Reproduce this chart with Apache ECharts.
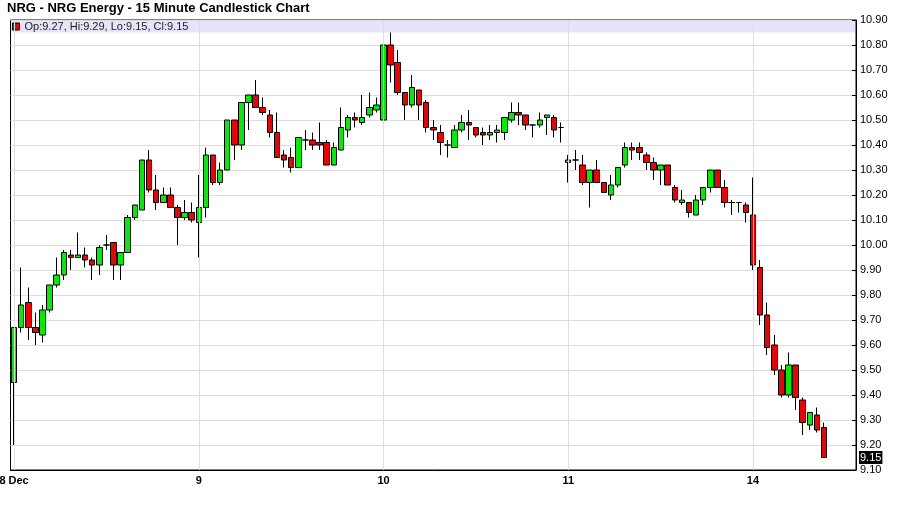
<!DOCTYPE html>
<html><head><meta charset="utf-8">
<script src="https://cdn.jsdelivr.net/npm/echarts@6/dist/echarts.min.js"></script>
<style>html,body{margin:0;padding:0;background:#fff}#c{width:900px;height:511px}</style>
</head><body><div id="c"></div>
<script>
const titleText = 'NRG - NRG Energy - 15 Minute Candlestick Chart';
const dayLabels = ['8 Dec', '9', '10', '11', '14'];
const barsPerDay = [26, 26, 26, 26, 11];

const opens = [
 9.45,9.67,9.77,9.67,9.64,9.74,9.84,9.88,9.96,9.95,9.96,9.94,9.92,10.00,10.01,9.92,9.97,10.11,10.14,10.34,10.22,10.17,10.20,10.15,10.11,10.13,
 10.09,10.15,10.36,10.25,10.30,10.50,10.40,10.57,10.60,10.55,10.52,10.45,10.36,10.35,10.31,10.42,10.42,10.41,10.41,10.32,10.38,10.46,10.51,10.49,10.52,10.54,
 10.50,10.80,10.73,10.61,10.56,10.62,10.57,10.47,10.45,10.40,10.39,10.46,10.49,10.47,10.45,10.44,10.45,10.45,10.50,10.53,10.52,10.48,10.48,10.51,10.51,10.47,
 10.33,10.34,10.32,10.25,10.30,10.25,10.20,10.24,10.32,10.39,10.39,10.36,10.33,10.30,10.32,10.23,10.17,10.17,10.12,10.18,10.23,10.30,10.23,10.17,10.17,10.16,
 10.12,9.91,9.72,9.60,9.50,9.40,9.52,9.38,9.28,9.32,9.27
];
const closes = [
 9.67,9.76,9.67,9.65,9.74,9.84,9.88,9.97,9.95,9.96,9.94,9.92,9.99,10.00,9.92,9.97,10.11,10.16,10.34,10.22,10.17,10.20,10.15,10.11,10.13,10.10,
 10.15,10.36,10.25,10.30,10.50,10.40,10.57,10.60,10.55,10.53,10.45,10.35,10.34,10.31,10.43,10.42,10.40,10.40,10.32,10.39,10.47,10.51,10.50,10.51,10.55,10.56,
 10.80,10.72,10.61,10.56,10.63,10.56,10.47,10.46,10.41,10.40,10.46,10.49,10.48,10.44,10.44,10.45,10.46,10.51,10.53,10.52,10.48,10.48,10.50,10.52,10.46,10.47,
 10.34,10.34,10.25,10.30,10.25,10.21,10.24,10.31,10.39,10.38,10.37,10.33,10.30,10.32,10.24,10.18,10.18,10.13,10.18,10.23,10.30,10.23,10.17,10.17,10.17,10.13,
 9.92,9.72,9.59,9.50,9.40,9.52,9.39,9.29,9.33,9.26,9.15
];
const lows = [
 9.20,9.65,9.62,9.60,9.61,9.73,9.83,9.86,9.90,9.95,9.91,9.86,9.88,9.98,9.86,9.86,9.97,10.10,10.14,10.21,10.14,10.17,10.15,10.00,10.10,10.09,
 9.95,10.11,10.24,10.24,10.30,10.34,10.38,10.46,10.55,10.52,10.43,10.35,10.31,10.29,10.31,10.38,10.38,10.38,10.32,10.32,10.38,10.43,10.47,10.48,10.51,10.53,
 10.45,10.65,10.60,10.50,10.55,10.50,10.45,10.42,10.36,10.35,10.39,10.45,10.42,10.43,10.40,10.42,10.41,10.42,10.49,10.48,10.46,10.43,10.47,10.44,10.43,10.41,
 10.25,10.30,10.24,10.15,10.25,10.21,10.18,10.23,10.31,10.34,10.34,10.30,10.26,10.24,10.24,10.17,10.16,10.11,10.12,10.16,10.21,10.23,10.15,10.12,10.13,10.09,
 9.90,9.68,9.56,9.48,9.39,9.39,9.34,9.24,9.26,9.25,9.15
];
const highs = [
 9.67,9.91,9.83,9.73,9.76,9.84,9.95,9.98,9.98,10.05,9.99,9.95,10.00,10.04,10.01,9.97,10.12,10.16,10.34,10.38,10.28,10.23,10.23,10.16,10.18,10.17,
 10.28,10.39,10.36,10.33,10.50,10.50,10.57,10.60,10.66,10.59,10.54,10.53,10.38,10.39,10.43,10.46,10.45,10.49,10.42,10.41,10.55,10.52,10.53,10.60,10.61,10.59,
 10.85,10.85,10.78,10.61,10.68,10.62,10.58,10.50,10.48,10.42,10.48,10.52,10.54,10.47,10.47,10.48,10.48,10.51,10.57,10.57,10.52,10.48,10.53,10.52,10.52,10.49,
 10.36,10.38,10.36,10.30,10.34,10.25,10.28,10.31,10.41,10.41,10.41,10.37,10.35,10.32,10.32,10.24,10.22,10.17,10.20,10.23,10.30,10.30,10.26,10.18,10.17,10.17,
 10.27,9.94,9.77,9.64,9.52,9.57,9.52,9.39,9.33,9.35,9.29
];

const FONT = "'Liberation Sans', Arial, sans-serif";
const categories = [];
const dayStart = [];
const labelAt = {};
dayLabels.forEach((d, k) => {
  dayStart.push(categories.length);
  labelAt[categories.length] = d;
  for (let j = 0; j < barsPerDay[k]; j++) categories.push(d + ' #' + (j + 1));
});
for (let j = 0; j < 4; j++) categories.push('');
const startSet = new Set(dayStart);

const candles = opens.map((o, i) => [o, closes[i], lows[i], highs[i]]);
const n = opens.length - 1;
const lastClose = closes[n];
const legendName = 'Op:' + opens[n].toFixed(2) + ', Hi:' + highs[n].toFixed(2) +
  ', Lo:' + lows[n].toFixed(2) + ', Cl:' + closes[n].toFixed(2);

const chart = echarts.init(document.getElementById('c'), null, {renderer: 'canvas'});
chart.setOption({
  animation: false,
  backgroundColor: '#ffffff',
  textStyle: {fontFamily: FONT},
  title: {
    text: titleText, left: 7, top: 2, padding: 0,
    textStyle: {fontSize: 13, fontWeight: 'bold', color: '#000', fontFamily: FONT}
  },
  legend: {
    left: 12, top: 21, padding: 0, itemWidth: 7, itemHeight: 7, itemGap: 4,
    selectedMode: false, icon: 'rect',
    textStyle: {fontSize: 11, color: '#222', fontFamily: FONT},
    data: [{name: legendName, icon: 'rect', itemStyle: {color: '#f00000', borderColor: '#000', borderWidth: 1}}]
  },
  graphic: [{
    type: 'rect', z: 0, silent: true,
    shape: {x: 11, y: 21, width: 844, height: 11.5},
    style: {fill: '#e4e4fa'}
  }],
  grid: {
    left: 10.5, right: 44, top: 20, bottom: 41,
    outerBoundsMode: 'none', containLabel: false,
    show: true, borderColor: '#000', borderWidth: 1, backgroundColor: 'transparent'
  },
  xAxis: {
    type: 'category', data: categories, boundaryGap: true,
    axisLine: {show: true, lineStyle: {color: '#000'}},
    axisTick: {show: false},
    splitLine: {show: false},
    axisLabel: {
      interval: (i) => startSet.has(i),
      formatter: (v, i) => labelAt[i] || '',
      fontSize: 11, fontWeight: 'bold', color: '#000', margin: 5, fontFamily: FONT
    }
  },
  yAxis: {
    type: 'value', position: 'right', min: 9.1, max: 10.9, interval: 0.1,
    axisLine: {show: true, lineStyle: {color: '#000'}},
    axisTick: {show: true, inside: true, length: 4, lineStyle: {color: '#000'}},
    axisLabel: {fontSize: 11, color: '#000', margin: 4, fontFamily: FONT, formatter: (v) => v.toFixed(2)},
    splitLine: {show: true, lineStyle: {color: '#dddddd'}}
  },
  series: [
    {
      type: 'line', data: [], z: 1, silent: true, showSymbol: false,
      markLine: {
        silent: true, symbol: ['none', 'none'], animation: false,
        lineStyle: {color: '#dddddd', width: 1, type: 'solid'},
        label: {show: false},
        data: dayStart.map(i => ({xAxis: categories[i]}))
      }
    },
    {
      type: 'line', data: [], z: 5, silent: true, showSymbol: false,
      markLine: {
        silent: true, symbol: ['none', 'none'], animation: false,
        lineStyle: {color: 'rgba(0,0,0,0)', width: 1, type: 'solid'},
        data: [{
          yAxis: lastClose,
          label: {
            show: true, position: 'end', distance: 3, formatter: lastClose.toFixed(2),
            color: '#fff', backgroundColor: '#000', padding: [1, 1, 0, 1],
            fontSize: 11, fontFamily: FONT, lineHeight: 12
          }
        }]
      }
    },
    {
      name: legendName,
      type: 'candlestick', z: 3,
      barWidth: 6,
      data: candles,
      itemStyle: {
        color: '#00ee00', color0: '#f00000',
        borderColor: '#000', borderColor0: '#000', borderColorDoji: '#000', borderWidth: 1
      }
    }
  ]
});
</script>
</body></html>
